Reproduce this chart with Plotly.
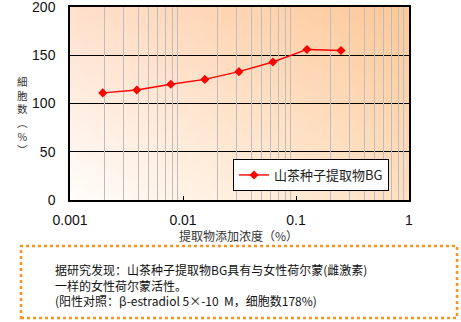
import base64, struct, zlib
import plotly.graph_objects as go

# ---- data ----
conc = [0.00195, 0.0039, 0.0078, 0.0156, 0.03125, 0.0625, 0.125, 0.25]
cells = [111, 114, 120, 125, 133, 143, 156, 155]
series_name = "山茶种子提取物BG"
major_ticks = [0.001, 0.01, 0.1, 1]
major_labels = ["0.001", "0.01", "0.1", "1"]
minor_ticks = [m * d for d in (0.001, 0.01, 0.1) for m in range(2, 10)]
y_ticks = [0, 50, 100, 150, 200]
x_title = "提取物添加浓度（%）"
y_title_chars = ["細", "胞", "数", "︵", "%", "︶"]
note_lines = [
    "据研究发现：山茶种子提取物BG具有与女性荷尔蒙(雌激素)",
    "一样的女性荷尔蒙活性。",
    "(阳性对照：β-estradiol 5×-10  M，细胞数178%)",
]

# ---- gradient background image (bilinear between corner colours) ----
def gradient_png(w=64, h=64):
    TL = (255, 224, 204)
    TR = (253, 201, 152)
    BL = (255, 253, 250)
    BR = (254, 224, 194)
    raw = b""
    for j in range(h):
        raw += b"\x00"
        v = 1 - j / (h - 1)  # 1 at top
        for i in range(w):
            u = i / (w - 1)
            px = []
            for k in range(3):
                top = TL[k] + (TR[k] - TL[k]) * u
                bot = BL[k] + (BR[k] - BL[k]) * u
                px.append(int(round(bot + (top - bot) * v)))
            raw += bytes(px)
    def chunk(tag, data):
        return struct.pack(">I", len(data)) + tag + data + struct.pack(">I", zlib.crc32(tag + data) & 0xffffffff)
    png = b"\x89PNG\r\n\x1a\n" + chunk(b"IHDR", struct.pack(">IIBBBBB", w, h, 8, 2, 0, 0, 0)) \
        + chunk(b"IDAT", zlib.compress(raw, 9)) + chunk(b"IEND", b"")
    return "data:image/png;base64," + base64.b64encode(png).decode()

fig = go.Figure()
fig.add_trace(go.Scatter(
    x=conc, y=cells, mode="lines+markers", name=series_name,
    line=dict(color="#FF0000", width=1.4),
    marker=dict(symbol="diamond", size=7, color="#FF0000"),
))
# invisible copy to activate the minor-grid overlay axis
fig.add_trace(go.Scatter(
    x=conc, y=cells, xaxis="x2", mode="markers", showlegend=False,
    marker=dict(opacity=0), hoverinfo="skip",
))

W, H = 461, 322
L, R, T, B = 70, 52, 7, 122
pw, ph = W - L - R, H - T - B

def px_x(x):
    return (x - L) / pw

def px_y(y):
    return (H - B - y) / ph

cjk = "Noto Sans CJK SC"
num_font = "Liberation Sans, Arial"

fig.update_layout(
    width=W, height=H,
    margin=dict(l=L, r=R, t=T, b=B, pad=0),
    paper_bgcolor="white",
    plot_bgcolor="rgba(0,0,0,0)",
    font=dict(family=cjk, size=12, color="#222"),
    images=[dict(source=gradient_png(), xref="paper", yref="paper", x=0, y=1,
                 sizex=1, sizey=1, sizing="stretch", layer="below", xanchor="left", yanchor="top")],
    xaxis=dict(
        type="log", range=[-3, 0], tickvals=major_ticks, ticktext=major_labels,
        ticks="inside", ticklen=4, tickcolor="black", showgrid=False,
        showline=True, linecolor="black", linewidth=1.5, mirror=True,
        tickfont=dict(family=num_font, size=14, color="#111"), ticklabelstandoff=6,
        zeroline=False, automargin=False, ticklabeloverflow="allow",
    ),
    xaxis2=dict(
        type="log", range=[-3, 0], overlaying="x", tickvals=minor_ticks,
        showticklabels=False, ticks="", showgrid=True, gridcolor="#BDBDBD", gridwidth=1,
        showline=False, zeroline=False, side="bottom", automargin=False,
    ),
    yaxis=dict(
        range=[0, 200], tickvals=y_ticks, ticks="",
        showgrid=True, gridcolor="black", gridwidth=1.2,
        showline=True, linecolor="black", linewidth=1.5, mirror=True,
        tickfont=dict(family=num_font, size=14, color="#111"), ticklabelstandoff=10,
        zeroline=False, automargin=False, ticklabeloverflow="allow",
    ),
    legend=dict(
        x=px_x(233), y=px_y(159), xanchor="left", yanchor="top",
        bgcolor="white", bordercolor="black", borderwidth=1,
        font=dict(family=cjk, size=13, color="#222"),
        entrywidth=135,
    ),
    showlegend=True,
)

# x-axis title
fig.add_annotation(
    text=x_title, xref="paper", yref="paper", x=px_x(238), y=px_y(235),
    showarrow=False, xanchor="center", yanchor="middle",
    font=dict(family=cjk, size=12, color="#333"),
)

# vertical y-axis title, stacked characters
fig.add_annotation(
    text="<br>".join(y_title_chars), xref="paper", yref="paper",
    x=px_x(22), y=px_y(115), showarrow=False, xanchor="center", yanchor="middle",
    font=dict(family=cjk, size=10.5, color="#333"),
)

fig.add_shape(type="rect", xref="paper", yref="paper",
              x0=px_x(21), x1=px_x(457), y0=px_y(318), y1=px_y(246),
              line=dict(color="#F7941D", width=2.5, dash="dot"))

fig.add_annotation(
    text="<br>".join(note_lines), xref="paper", yref="paper",
    x=px_x(53), y=px_y(285), xanchor="left", yanchor="middle", align="left",
    showarrow=False, font=dict(family=cjk, size=12, color="#111"),
)

fig.write_html("out.html")
